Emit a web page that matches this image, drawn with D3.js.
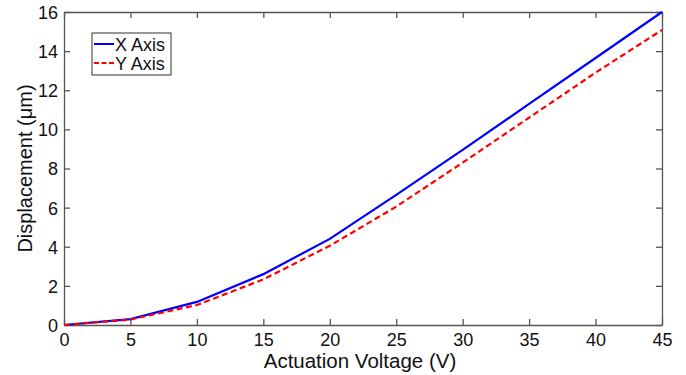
<!DOCTYPE html>
<html>
<head>
<meta charset="utf-8">
<script src="https://cdn.jsdelivr.net/npm/d3@7"></script>
<style>
  body { margin: 0; background: #fff; }
  svg text { font-family: "Liberation Sans", Arial, sans-serif; fill: #111; }
</style>
</head>
<body>
<svg class="chart"></svg>
<script>
const voltage = [0, 5, 10, 15, 20, 25, 30, 35, 40, 45]
const xAxisDisp = [0, 0.3, 1.18, 2.6, 4.4, 6.65, 8.95, 11.3, 13.65, 16.0]
const yAxisDisp = [0, 0.28, 1.02, 2.33, 4.05, 6.05, 8.3, 10.6, 12.9, 15.08]
const xTicks = [0, 5, 10, 15, 20, 25, 30, 35, 40, 45]
const yTicks = [0, 2, 4, 6, 8, 10, 12, 14, 16]
const seriesNames = ["X Axis", "Y Axis"]

const W = 686, H = 375
const margin = {top: 12, right: 24, bottom: 50, left: 64}
let width = W - margin.left - margin.right,
    height = H - margin.top - margin.bottom

let x = d3.scaleLinear().domain([0, 45]).range([0, width])
let y = d3.scaleLinear().domain([0, 16]).range([height, 0])

let svg = d3.select(".chart").attr("width", W).attr("height", H)
let chart = svg.append("g")
    .attr("transform", "translate(" + margin.left + "," + margin.top + ")")

const axisColor = "#555"
const tickLen = 6

// axes: matlab style, ticks pointing inward on all four sides
let xAxis = d3.axisBottom(x).tickValues(xTicks).tickSizeInner(-tickLen).tickSizeOuter(0).tickPadding(8)
let yAxis = d3.axisLeft(y).tickValues(yTicks).tickSizeInner(-tickLen).tickSizeOuter(0).tickPadding(6)
let xTop = d3.axisTop(x).tickValues(xTicks).tickSizeInner(-tickLen).tickSizeOuter(0).tickFormat("")
let yRight = d3.axisRight(y).tickValues(yTicks).tickSizeInner(-tickLen).tickSizeOuter(0).tickFormat("")

let gx = chart.append("g").attr("transform", "translate(0," + height + ")").call(xAxis)
let gy = chart.append("g").call(yAxis)
let gt = chart.append("g").call(xTop)
let gr = chart.append("g").attr("transform", "translate(" + width + ",0)").call(yRight)

;[gx, gy, gt, gr].forEach(function(g) {
  g.selectAll("path, line").attr("stroke", axisColor).attr("stroke-width", 1.3)
  g.selectAll("text").style("font-size", "18px").style("font-family", "Liberation Sans, Arial, sans-serif").attr("fill", "#111")
})
gy.selectAll("text").attr("dy", "0.36em")

let line = d3.line()
  .x(function(d) { return x(d[0]) })
  .y(function(d) { return y(d[1]) })

chart.append("path")
  .datum(voltage.map(function(v, i) { return [v, xAxisDisp[i]] }))
  .attr("d", line)
  .attr("fill", "none")
  .attr("stroke", "#0000ff")
  .attr("stroke-width", 2.2)

chart.append("path")
  .datum(voltage.map(function(v, i) { return [v, yAxisDisp[i]] }))
  .attr("d", line)
  .attr("fill", "none")
  .attr("stroke", "#ff0000")
  .attr("stroke-width", 2.2)
  .attr("stroke-dasharray", "6,3.5")

// axis titles
svg.append("text")
  .attr("x", margin.left + width / 2 - 3)
  .attr("y", 368)
  .attr("text-anchor", "middle")
  .style("font-size", "20.5px")
  .text("Actuation Voltage (V)")

svg.append("text")
  .attr("transform", "translate(32," + (margin.top + height / 2) + ") rotate(-90)")
  .attr("text-anchor", "middle")
  .style("font-size", "20px")
  .text("Displacement (\u03bcm)")

// legend
let legend = svg.append("g").attr("transform", "translate(92,33)")
legend.append("rect")
  .attr("width", 79).attr("height", 42)
  .attr("fill", "#fff").attr("stroke", "#333").attr("stroke-width", 1)
const legendColors = ["#0000ff", "#ff0000"]
const legendDash = [null, "5,2.5"]
seriesNames.forEach(function(name, i) {
  let row = legend.append("g").attr("transform", "translate(0," + (11 + i * 19) + ")")
  row.append("line")
    .attr("x1", 2).attr("x2", 22)
    .attr("stroke", legendColors[i]).attr("stroke-width", 2)
    .attr("stroke-dasharray", legendDash[i])
  row.append("text")
    .attr("x", 23).attr("y", 6.5)
    .style("font-size", "18px")
    .text(name)
})
</script>
</body>
</html>
